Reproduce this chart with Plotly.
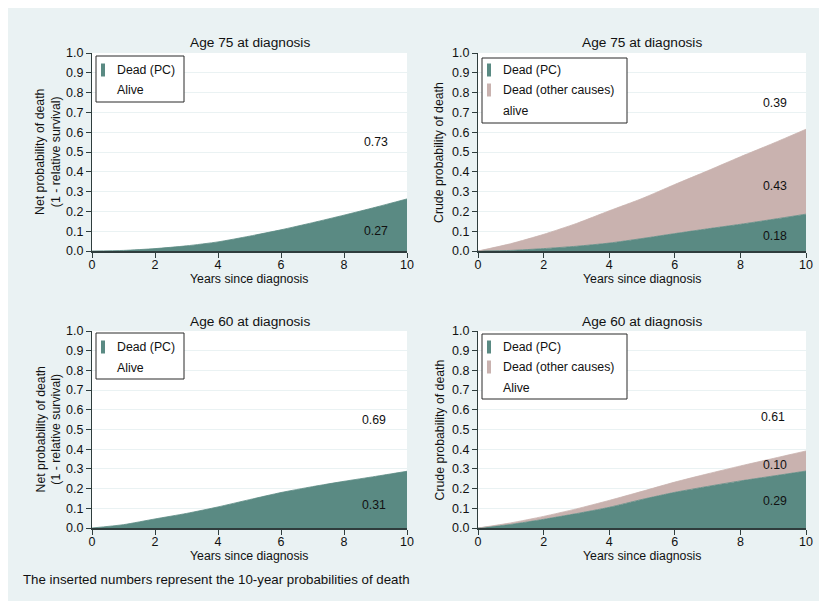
import plotly.graph_objects as go

# ---------------- data ----------------
years = [0, 1, 2, 3, 4, 5, 6, 7, 8, 9, 10]

net75_pc = [0, 0.003, 0.012, 0.026, 0.046, 0.075, 0.107, 0.143, 0.181, 0.221, 0.263]
crude75_pc = [0, 0.003, 0.012, 0.024, 0.040, 0.063, 0.088, 0.112, 0.135, 0.160, 0.186]
crude75_other = [0, 0.034, 0.072, 0.115, 0.163, 0.202, 0.248, 0.293, 0.341, 0.384, 0.429]

net60_pc = [0, 0.017, 0.046, 0.074, 0.107, 0.144, 0.180, 0.210, 0.237, 0.262, 0.288]
crude60_pc = [0, 0.018, 0.044, 0.073, 0.105, 0.145, 0.181, 0.211, 0.239, 0.264, 0.289]
crude60_other = [0, 0.008, 0.015, 0.024, 0.035, 0.041, 0.052, 0.064, 0.076, 0.089, 0.102]

panel_titles = ["Age 75 at diagnosis", "Age 75 at diagnosis",
                "Age 60 at diagnosis", "Age 60 at diagnosis"]
labels_net75 = [("0.73", 9.0, 0.55), ("0.27", 9.0, 0.10)]
labels_crude75 = [("0.39", 9.05, 0.75), ("0.43", 9.05, 0.33), ("0.18", 9.05, 0.074)]
labels_net60 = [("0.69", 8.95, 0.548), ("0.31", 8.95, 0.118)]
labels_crude60 = [("0.61", 8.98, 0.562), ("0.10", 9.05, 0.32), ("0.29", 9.05, 0.137)]
legend_net = ["Dead (PC)", "Alive"]
legend_crude75 = ["Dead (PC)", "Dead (other causes)", "alive"]
legend_crude60 = ["Dead (PC)", "Dead (other causes)", "Alive"]
caption = "The inserted numbers represent the 10-year probabilities of death"
ytitle_net = "Net probability of death<br>(1 - relative survival)"
ytitle_crude = "Crude probability of death"
xtitle = "Years since diagnosis"

# ---------------- style ----------------
W, H = 811, 593          # figure size; page keeps an 8px margin at top/left only
OFF = 8
BG = "#EAF2F3"
TEAL = "#5A8A83"
PINK = "#C9B2AF"
AX = "#2f3d3d"
TXT = "#111111"
FONT = "Liberation Sans, Arial, sans-serif"
FS = 12.3
FS_TITLE = 13.7

def fx(px):
    return (px - OFF) / W

def fy(py):
    return 1 - (py - OFF) / H

# plot areas in page pixels (x0, x1, ytop, ybottom)
areas = [(92, 407, 53, 251), (478, 806, 53, 251),
         (92, 407, 331, 528), (478, 806, 331, 528)]

fig = go.Figure()

def area_trace(x, y, color, axis, group):
    return go.Scatter(x=x, y=y, mode="lines", stackgroup=group,
                      line=dict(color=color, width=0.8, shape="spline", smoothing=0.6),
                      fillcolor=color, xaxis="x" + axis, yaxis="y" + axis,
                      showlegend=False, hoverinfo="x+y")

fig.add_trace(area_trace(years, net75_pc, TEAL, "", "a"))
fig.add_trace(area_trace(years, crude75_pc, TEAL, "2", "b"))
fig.add_trace(area_trace(years, crude75_other, PINK, "2", "b"))
fig.add_trace(area_trace(years, net60_pc, TEAL, "3", "c"))
fig.add_trace(area_trace(years, crude60_pc, TEAL, "4", "d"))
fig.add_trace(area_trace(years, crude60_other, PINK, "4", "d"))

layout = dict(width=W, height=H,
              margin=dict(l=0, r=0, t=0, b=0, pad=0, autoexpand=False),
              autosize=False,
              paper_bgcolor=BG, plot_bgcolor="white",
              font=dict(family=FONT, size=FS, color=TXT), showlegend=False)

for i, (x0, x1, yt, yb) in enumerate(areas):
    sfx = "" if i == 0 else str(i + 1)
    layout["xaxis" + sfx] = dict(domain=[fx(x0), fx(x1)], range=[0, 10], dtick=2,
                                 showline=True, linecolor=AX, linewidth=1.6,
                                 ticks="outside", ticklen=5, tickcolor=AX, tickwidth=1,
                                 ticklabelstandoff=-4,
                                 showgrid=False, zeroline=False, automargin=False,
                                 ticklabeloverflow="allow",
                                 anchor="y" + sfx, tickfont=dict(size=12.5, color=TXT),
                                 fixedrange=True)
    layout["yaxis" + sfx] = dict(domain=[fy(yb), fy(yt)], range=[0, 1], dtick=0.1,
                                 tickformat=".1f", showline=True, linecolor=AX,
                                 linewidth=1.2, ticks="outside", ticklen=5, tickcolor=AX,
                                 tickwidth=1,
                                 showgrid=True, gridcolor=BG, gridwidth=1,
                                 zeroline=False, anchor="x" + sfx, automargin=False,
                                 tickfont=dict(size=12.5, color=TXT), fixedrange=True)
fig.update_layout(**layout)

annotations = []
shapes = []

def pann(text, px, py, size=FS, **kw):
    d = dict(text=text, x=fx(px), y=fy(py), xref="paper", yref="paper",
             showarrow=False, xanchor="center", yanchor="middle", font=dict(size=size))
    d.update(kw)
    return d

# titles and axis titles
for i, (x0, x1, yt, yb) in enumerate(areas):
    cx = (x0 + x1) / 2
    cy = (yt + yb) / 2
    annotations.append(pann(panel_titles[i], cx, yt - 10, size=FS_TITLE))
    annotations.append(pann(xtitle, cx, yb + 27.5))
    if i % 2 == 0:
        annotations.append(pann(ytitle_net, 48, cy, textangle=-90))
    else:
        annotations.append(pann(ytitle_crude, 439, cy, textangle=-90))

# inserted numbers
for sfx, labs in [("", labels_net75), ("2", labels_crude75),
                  ("3", labels_net60), ("4", labels_crude60)]:
    for t, xv, yv in labs:
        annotations.append(dict(text=t, x=xv, y=yv, xref="x" + sfx, yref="y" + sfx,
                                showarrow=False, xanchor="center", yanchor="middle",
                                font=dict(size=FS)))

# manual legends: (box x0, x1, y0, y1, entries, colors, row centres)
legends = [
    (96, 184, 56, 102, legend_net, [TEAL, None], [70, 90]),
    (482, 627, 58, 123, legend_crude75, [TEAL, PINK, None], [70, 90, 111]),
    (96, 184, 333, 379, legend_net, [TEAL, None], [347, 368]),
    (482, 627, 334, 399, legend_crude60, [TEAL, PINK, None], [347, 367, 388]),
]
for (bx0, bx1, by0, by1, names, cols, rows) in legends:
    shapes.append(dict(type="rect", xref="paper", yref="paper", x0=fx(bx0), x1=fx(bx1),
                       y0=fy(by0), y1=fy(by1), line=dict(color="#2a2a2a", width=1),
                       fillcolor="white", layer="above"))
    for name, col, ry in zip(names, cols, rows):
        if col:
            shapes.append(dict(type="rect", xref="paper", yref="paper",
                               x0=fx(bx0 + 5), x1=fx(bx0 + 9), y0=fy(ry - 6.5),
                               y1=fy(ry + 6.5), line=dict(width=0), fillcolor=col,
                               layer="above"))
        annotations.append(pann(name, bx0 + 19, ry, xanchor="left"))

annotations.append(pann(caption, 21, 579, size=13.3, xanchor="left"))

fig.update_layout(annotations=annotations, shapes=shapes)
fig.write_html(
    "out.html",
    post_script="document.body.style.margin='8px 0 0 8px';"
                "document.documentElement.style.overflow='hidden';",
)
